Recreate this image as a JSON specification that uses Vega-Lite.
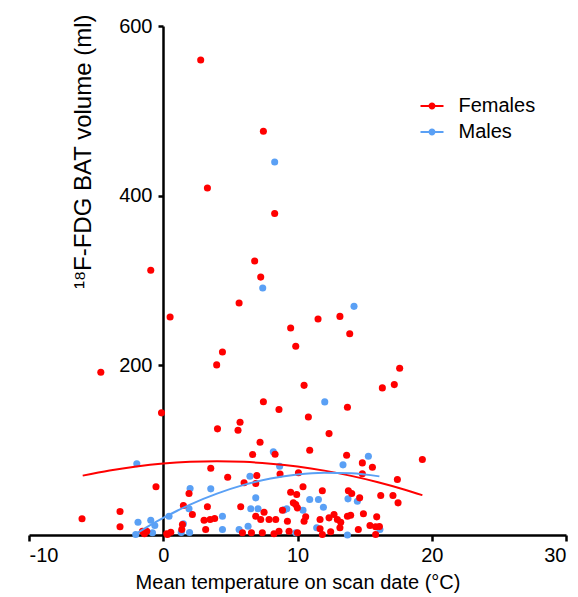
{
  "$schema": "https://vega.github.io/schema/vega-lite/v6.json",
  "width": 537,
  "height": 509,
  "autosize": {"type": "none"},
  "padding": {"left": 29, "top": 26, "right": 12, "bottom": 62},
  "background": "white",
  "config": {
    "view": {"stroke": null},
    "font": "Liberation Sans",
    "axis": {"grid": false, "domainColor": "black", "domainWidth": 2.5, "tickColor": "black", "tickWidth": 2.5, "labelColor": "black", "titleColor": "black", "titleFontWeight": "normal", "labelFont": "Liberation Sans", "titleFont": "Liberation Sans"},
    "legend": {"labelFont": "Liberation Sans"}
  },
  "datasets": {
    "pts": [
      {"temp": 8.30, "vol": 439.6, "sex": "Males"},
      {"temp": 7.41, "vol": 291.2, "sex": "Males"},
      {"temp": 14.21, "vol": 269.5, "sex": "Males"},
      {"temp": 12.03, "vol": 156.9, "sex": "Males"},
      {"temp": 8.2, "vol": 98, "sex": "Males"},
      {"temp": 15.28, "vol": 92.8, "sex": "Males"},
      {"temp": 13.39, "vol": 82.7, "sex": "Males"},
      {"temp": -1.97, "vol": 83.9, "sex": "Males"},
      {"temp": 8.67, "vol": 81, "sex": "Males"},
      {"temp": 6.46, "vol": 69.3, "sex": "Males"},
      {"temp": 2.0, "vol": 54.8, "sex": "Males"},
      {"temp": 3.54, "vol": 54.4, "sex": "Males"},
      {"temp": 6.89, "vol": 43.8, "sex": "Males"},
      {"temp": 1.92, "vol": 30.9, "sex": "Males"},
      {"temp": 6.52, "vol": 30.9, "sex": "Males"},
      {"temp": 7.06, "vol": 30.9, "sex": "Males"},
      {"temp": 9.0, "vol": 29.6, "sex": "Males"},
      {"temp": 9.2, "vol": 31, "sex": "Males"},
      {"temp": 4.41, "vol": 22.1, "sex": "Males"},
      {"temp": 0.43, "vol": 22.1, "sex": "Males"},
      {"temp": 1.34, "vol": 3, "sex": "Males"},
      {"temp": 1.96, "vol": 3, "sex": "Males"},
      {"temp": 4.41, "vol": 6.5, "sex": "Males"},
      {"temp": 5.65, "vol": 6.5, "sex": "Males"},
      {"temp": 6.32, "vol": 10.4, "sex": "Males"},
      {"temp": -1.88, "vol": 15.1, "sex": "Males"},
      {"temp": -0.93, "vol": 17.4, "sex": "Males"},
      {"temp": -0.63, "vol": 11.2, "sex": "Males"},
      {"temp": -2.05, "vol": 0.6, "sex": "Males"},
      {"temp": -0.8, "vol": 2.6, "sex": "Males"},
      {"temp": 1.5, "vol": 13.2, "sex": "Males"},
      {"temp": 13.76, "vol": 42.6, "sex": "Males"},
      {"temp": 14.46, "vol": 39.8, "sex": "Males"},
      {"temp": 10.91, "vol": 41.8, "sex": "Males"},
      {"temp": 11.56, "vol": 41.8, "sex": "Males"},
      {"temp": 11.93, "vol": 32.7, "sex": "Males"},
      {"temp": 10.41, "vol": 29.2, "sex": "Males"},
      {"temp": 16.14, "vol": 6.5, "sex": "Males"},
      {"temp": 11.43, "vol": 8.5, "sex": "Males"},
      {"temp": 13.72, "vol": 0, "sex": "Males"},
      {"temp": 9.87, "vol": 2.6, "sex": "Males"},
      {"temp": 2.79, "vol": 560, "sex": "Females"},
      {"temp": 7.46, "vol": 476, "sex": "Females"},
      {"temp": 3.29, "vol": 409, "sex": "Females"},
      {"temp": 8.30, "vol": 379, "sex": "Females"},
      {"temp": 6.81, "vol": 323, "sex": "Females"},
      {"temp": 7.26, "vol": 304, "sex": "Females"},
      {"temp": -0.93, "vol": 312, "sex": "Females"},
      {"temp": 5.65, "vol": 273.5, "sex": "Females"},
      {"temp": 0.51, "vol": 257, "sex": "Females"},
      {"temp": 11.53, "vol": 254.6, "sex": "Females"},
      {"temp": 13.16, "vol": 257.7, "sex": "Females"},
      {"temp": 9.49, "vol": 244, "sex": "Females"},
      {"temp": 13.89, "vol": 237.3, "sex": "Females"},
      {"temp": 9.87, "vol": 222.4, "sex": "Females"},
      {"temp": 4.41, "vol": 215.8, "sex": "Females"},
      {"temp": 3.98, "vol": 200.5, "sex": "Females"},
      {"temp": -4.65, "vol": 191.8, "sex": "Females"},
      {"temp": 17.61, "vol": 196.5, "sex": "Females"},
      {"temp": 17.21, "vol": 177.3, "sex": "Females"},
      {"temp": 16.32, "vol": 173.4, "sex": "Females"},
      {"temp": 10.49, "vol": 176.4, "sex": "Females"},
      {"temp": 7.46, "vol": 157, "sex": "Females"},
      {"temp": 8.62, "vol": 148, "sex": "Females"},
      {"temp": -0.13, "vol": 144, "sex": "Females"},
      {"temp": 13.72, "vol": 150.5, "sex": "Females"},
      {"temp": 10.81, "vol": 139.2, "sex": "Females"},
      {"temp": 12.35, "vol": 119.5, "sex": "Females"},
      {"temp": 4.04, "vol": 125.1, "sex": "Females"},
      {"temp": 5.72, "vol": 132.9, "sex": "Females"},
      {"temp": 5.57, "vol": 123.4, "sex": "Females"},
      {"temp": 7.21, "vol": 109.3, "sex": "Females"},
      {"temp": 6.66, "vol": 94.8, "sex": "Females"},
      {"temp": 8.33, "vol": 95.2, "sex": "Females"},
      {"temp": 10.91, "vol": 99.9, "sex": "Females"},
      {"temp": 13.66, "vol": 94, "sex": "Females"},
      {"temp": 14.83, "vol": 85, "sex": "Females"},
      {"temp": 15.58, "vol": 79.9, "sex": "Females"},
      {"temp": 14.83, "vol": 72.1, "sex": "Females"},
      {"temp": 19.3, "vol": 88.9, "sex": "Females"},
      {"temp": 3.54, "vol": 78.7, "sex": "Females"},
      {"temp": 4.8, "vol": 68, "sex": "Females"},
      {"temp": 6.97, "vol": 70, "sex": "Females"},
      {"temp": 6.02, "vol": 61.5, "sex": "Females"},
      {"temp": 6.89, "vol": 60.7, "sex": "Females"},
      {"temp": 8.7, "vol": 72, "sex": "Females"},
      {"temp": 10.07, "vol": 73.3, "sex": "Females"},
      {"temp": 17.44, "vol": 65.4, "sex": "Females"},
      {"temp": 10.41, "vol": 56.8, "sex": "Females"},
      {"temp": 11.85, "vol": 52.1, "sex": "Females"},
      {"temp": 13.79, "vol": 52.1, "sex": "Females"},
      {"temp": 14.04, "vol": 48.9, "sex": "Females"},
      {"temp": 16.2, "vol": 46.5, "sex": "Females"},
      {"temp": 17.11, "vol": 46.5, "sex": "Females"},
      {"temp": 17.49, "vol": 37.9, "sex": "Females"},
      {"temp": 14.63, "vol": 43.8, "sex": "Females"},
      {"temp": -0.54, "vol": 56.8, "sex": "Females"},
      {"temp": 1.92, "vol": 48.9, "sex": "Females"},
      {"temp": 9.49, "vol": 50.4, "sex": "Females"},
      {"temp": 9.94, "vol": 47.7, "sex": "Females"},
      {"temp": 1.5, "vol": 34.7, "sex": "Females"},
      {"temp": 3.29, "vol": 33.2, "sex": "Females"},
      {"temp": 5.77, "vol": 33.2, "sex": "Females"},
      {"temp": 7.51, "vol": 26.9, "sex": "Females"},
      {"temp": 8.88, "vol": 29.2, "sex": "Females"},
      {"temp": 9.87, "vol": 35.9, "sex": "Females"},
      {"temp": 9.69, "vol": 37.9, "sex": "Females"},
      {"temp": 9.99, "vol": 32, "sex": "Females"},
      {"temp": 2.17, "vol": 24.1, "sex": "Females"},
      {"temp": 3.04, "vol": 17.4, "sex": "Females"},
      {"temp": 3.49, "vol": 18.3, "sex": "Females"},
      {"temp": 3.83, "vol": 19.4, "sex": "Females"},
      {"temp": 6.89, "vol": 22.1, "sex": "Females"},
      {"temp": 7.26, "vol": 18.3, "sex": "Females"},
      {"temp": 7.88, "vol": 18.3, "sex": "Females"},
      {"temp": 8.38, "vol": 18.3, "sex": "Females"},
      {"temp": 9.25, "vol": 16.3, "sex": "Females"},
      {"temp": 1.43, "vol": 12.4, "sex": "Females"},
      {"temp": 1.38, "vol": 6.5, "sex": "Females"},
      {"temp": 0.56, "vol": 3.3, "sex": "Females"},
      {"temp": 0.26, "vol": 1.5, "sex": "Females"},
      {"temp": 3.16, "vol": 6.5, "sex": "Females"},
      {"temp": 5.9, "vol": 2.6, "sex": "Females"},
      {"temp": 6.57, "vol": 2.6, "sex": "Females"},
      {"temp": 7.38, "vol": 2.6, "sex": "Females"},
      {"temp": 8.25, "vol": 1.5, "sex": "Females"},
      {"temp": 8.62, "vol": 4.5, "sex": "Females"},
      {"temp": 9.37, "vol": 4.5, "sex": "Females"},
      {"temp": 10.0, "vol": 2.6, "sex": "Females"},
      {"temp": -3.22, "vol": 27.7, "sex": "Females"},
      {"temp": -6.05, "vol": 19.1, "sex": "Females"},
      {"temp": -3.22, "vol": 9.7, "sex": "Females"},
      {"temp": -1.55, "vol": 4.5, "sex": "Females"},
      {"temp": -1.23, "vol": 4.5, "sex": "Females"},
      {"temp": -1.4, "vol": 1.5, "sex": "Females"},
      {"temp": 0.31, "vol": 0.6, "sex": "Females"},
      {"temp": 10.61, "vol": 21.4, "sex": "Females"},
      {"temp": 10.49, "vol": 16.3, "sex": "Females"},
      {"temp": 11.68, "vol": 18.3, "sex": "Females"},
      {"temp": 12.35, "vol": 20.2, "sex": "Females"},
      {"temp": 12.72, "vol": 24.1, "sex": "Females"},
      {"temp": 12.97, "vol": 18.3, "sex": "Females"},
      {"temp": 13.22, "vol": 15.1, "sex": "Females"},
      {"temp": 13.72, "vol": 22.1, "sex": "Females"},
      {"temp": 13.96, "vol": 23.3, "sex": "Females"},
      {"temp": 14.91, "vol": 25, "sex": "Females"},
      {"temp": 15.9, "vol": 21.4, "sex": "Females"},
      {"temp": 15.4, "vol": 11.2, "sex": "Females"},
      {"temp": 15.82, "vol": 9.7, "sex": "Females"},
      {"temp": 16.1, "vol": 10, "sex": "Females"},
      {"temp": 14.53, "vol": 6.5, "sex": "Females"},
      {"temp": 12.47, "vol": 3.8, "sex": "Females"},
      {"temp": 11.68, "vol": 7.3, "sex": "Females"},
      {"temp": 11.85, "vol": 0.6, "sex": "Females"},
      {"temp": 15.82, "vol": 0.6, "sex": "Females"},
      {"temp": 13.16, "vol": 8.5, "sex": "Females"}
    ],
    "fit": [
      {"temp": -6, "vol": 70.0, "sex": "Females"},
      {"temp": -4, "vol": 76.1, "sex": "Females"},
      {"temp": -2, "vol": 80.8, "sex": "Females"},
      {"temp": 0, "vol": 84.2, "sex": "Females"},
      {"temp": 2, "vol": 86.2, "sex": "Females"},
      {"temp": 4, "vol": 86.9, "sex": "Females"},
      {"temp": 6, "vol": 86.2, "sex": "Females"},
      {"temp": 8, "vol": 84.1, "sex": "Females"},
      {"temp": 10, "vol": 80.7, "sex": "Females"},
      {"temp": 12, "vol": 75.9, "sex": "Females"},
      {"temp": 14, "vol": 69.7, "sex": "Females"},
      {"temp": 16, "vol": 62.2, "sex": "Females"},
      {"temp": 18, "vol": 53.4, "sex": "Females"},
      {"temp": 19.3, "vol": 46.9, "sex": "Females"},
      {"temp": -2.17, "vol": 0, "sex": "Males"},
      {"temp": -1, "vol": 11.3, "sex": "Males"},
      {"temp": 0, "vol": 20.1, "sex": "Males"},
      {"temp": 1, "vol": 28.3, "sex": "Males"},
      {"temp": 2, "vol": 35.9, "sex": "Males"},
      {"temp": 4, "vol": 48.8, "sex": "Males"},
      {"temp": 6, "vol": 59.1, "sex": "Males"},
      {"temp": 8, "vol": 66.6, "sex": "Males"},
      {"temp": 10, "vol": 71.4, "sex": "Males"},
      {"temp": 12, "vol": 73.4, "sex": "Males"},
      {"temp": 14, "vol": 72.7, "sex": "Males"},
      {"temp": 16.1, "vol": 69.1, "sex": "Males"}
    ]
  },
  "layer": [
    {
      "data": {"name": "pts"},
      "mark": {"type": "point", "filled": true, "size": 50, "opacity": 1},
      "encoding": {
        "x": {
          "field": "temp", "type": "quantitative",
          "scale": {"domain": [-10, 30], "nice": false, "zero": false},
          "axis": {"values": [-10, 0, 10, 20, 30], "labelExpr": "'' + datum.value", "title": "Mean temperature on scan date (°C)", "domainWidth": 2.5, "tickWidth": 2.5, "domainColor": "black", "tickColor": "black", "tickSize": 6, "labelFontSize": 20, "titleFontSize": 20, "labelPadding": 4, "titlePadding": 7}
        },
        "y": {
          "field": "vol", "type": "quantitative",
          "scale": {"domain": [0, 600], "nice": false},
          "axis": {"values": [200, 400, 600], "offset": -134, "title": "¹⁸F-FDG BAT volume (ml)", "domainWidth": 2.5, "tickWidth": 2.5, "domainColor": "black", "tickColor": "black", "tickSize": 5, "labelFontSize": 20, "labelPadding": 6, "titleFontSize": 24, "titleX": -73, "titleY": -12, "titleAngle": -90, "titleAlign": "right", "titleBaseline": "alphabetic"}
        },
        "color": {
          "field": "sex", "type": "nominal",
          "scale": {"domain": ["Females", "Males"], "range": ["#FF0000", "#5AA0F5"]},
          "legend": {
            "orient": "none", "legendX": 391.5, "legendY": 68.5, "title": null, "padding": 0,
            "labelFontSize": 20, "labelColor": "black", "labelOffset": 15, "rowPadding": 4,
            "symbolType": "M-1,-0.08L1,-0.08L1,0.08L-1,0.08Z M-0.3,0A0.3,0.3,0,1,1,0.3,0A0.3,0.3,0,1,1,-0.3,0Z",
            "symbolSize": 529, "symbolStrokeWidth": 0, "symbolOpacity": 1
          }
        }
      }
    },
    {
      "data": {"name": "fit"},
      "mark": {"type": "line", "strokeWidth": 2, "interpolate": "monotone"},
      "encoding": {
        "x": {"field": "temp", "type": "quantitative"},
        "y": {"field": "vol", "type": "quantitative"},
        "color": {"field": "sex", "type": "nominal", "legend": null}
      }
    }
  ]
}
